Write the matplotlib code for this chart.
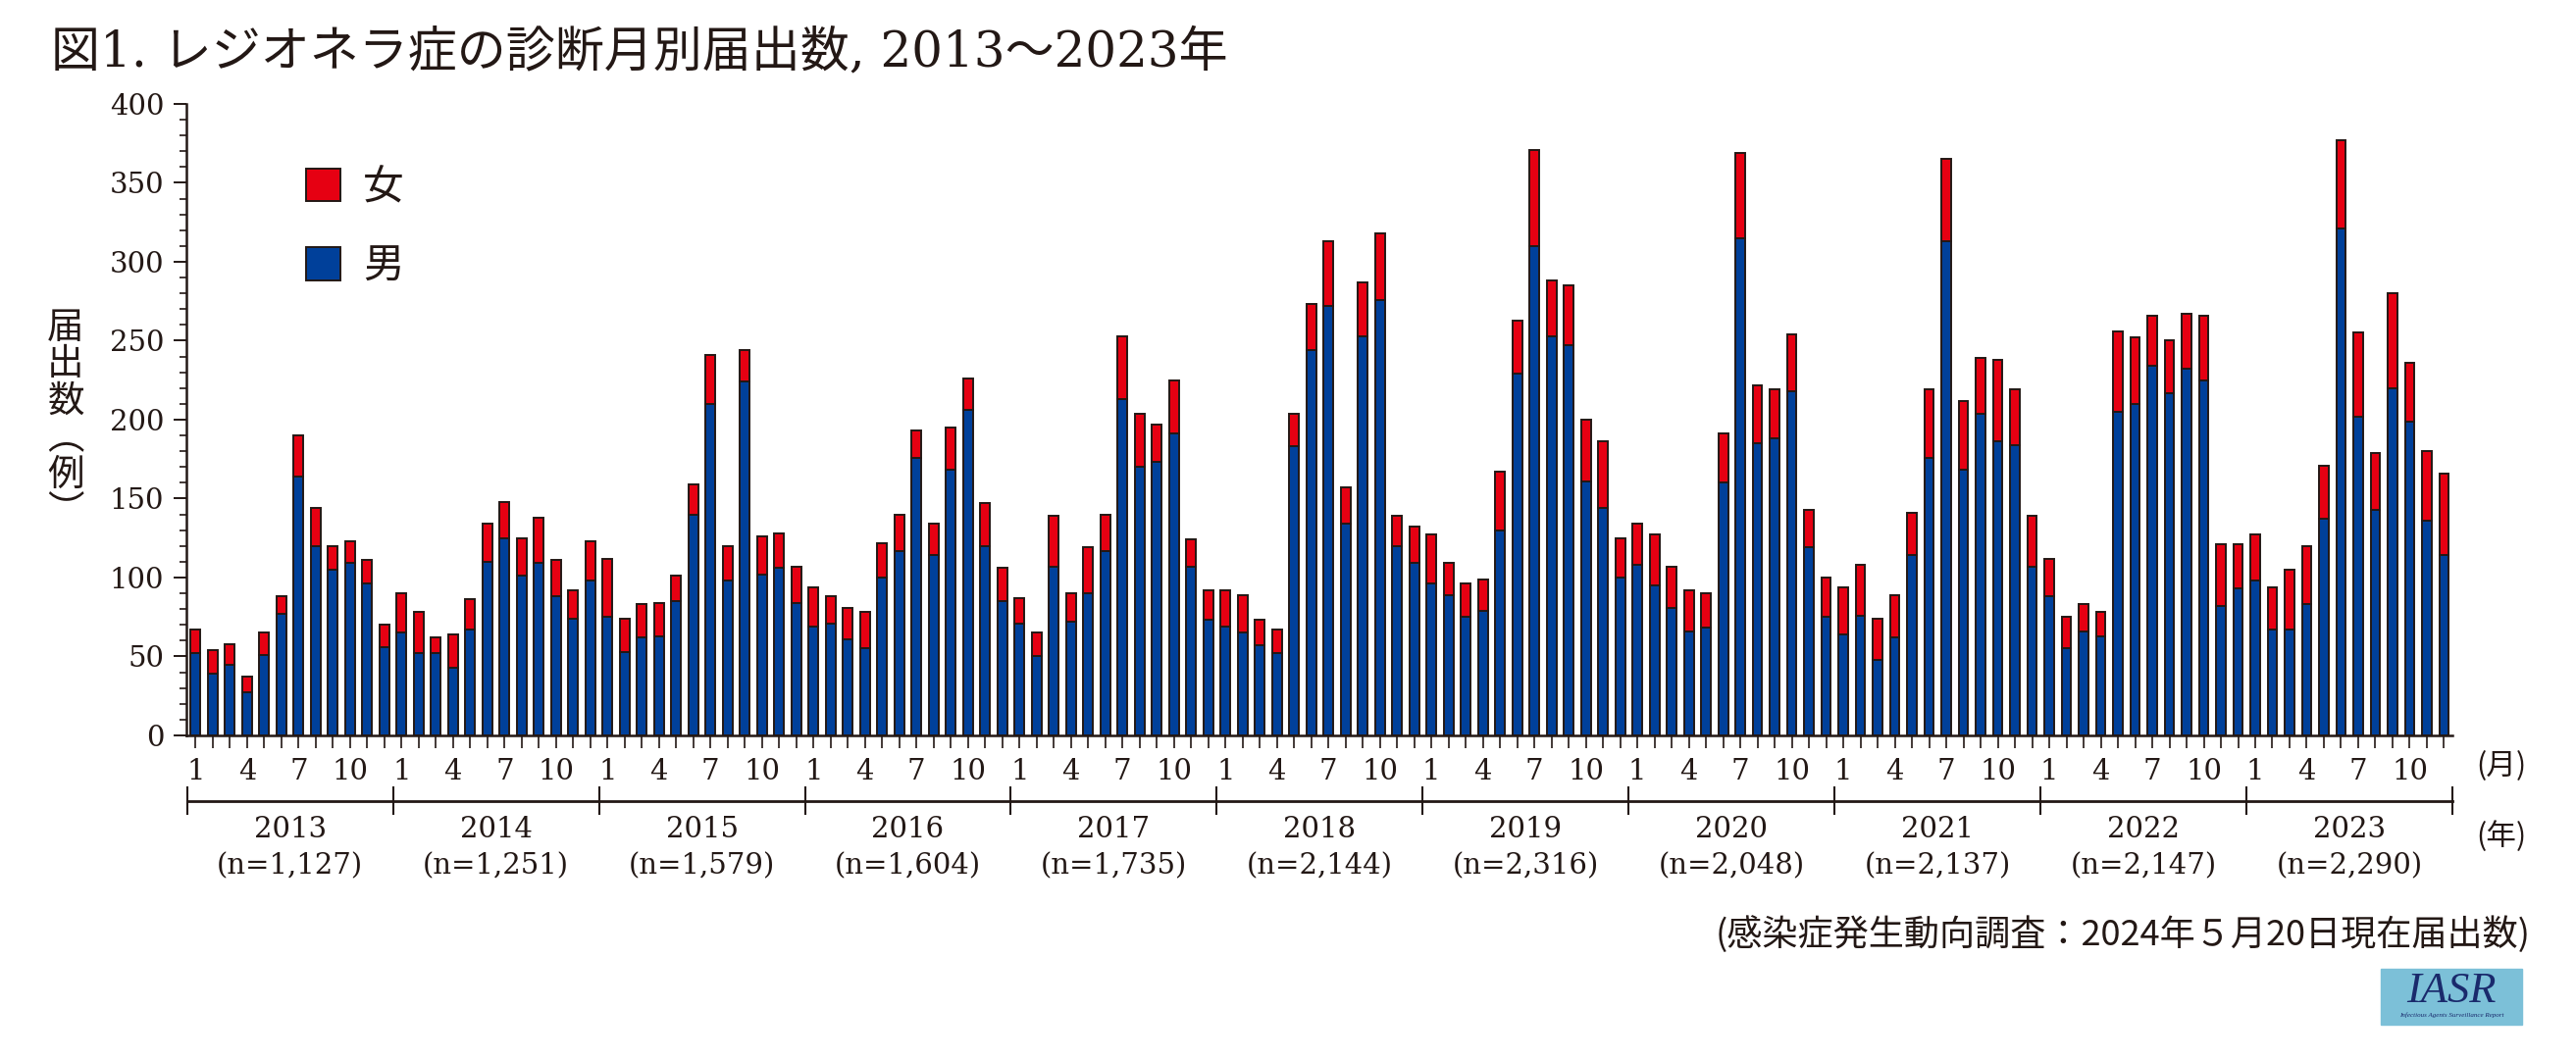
import matplotlib.pyplot as plt
import matplotlib.transforms as mtransforms
from matplotlib.patches import Rectangle
import numpy as np

# 届出数, per year: Jan..Dec
years = [2013, 2014, 2015, 2016, 2017, 2018, 2019, 2020, 2021, 2022, 2023]
n_labels = ["1,127", "1,251", "1,579", "1,604", "1,735", "2,144",
            "2,316", "2,048", "2,137", "2,147", "2,290"]
month_labels = ["1", "", "", "4", "", "", "7", "", "", "10", "", ""]

male = [
    [52, 39, 45, 27, 51, 77, 164, 120, 105, 109, 96, 56],
    [65, 52, 52, 43, 67, 110, 125, 101, 109, 88, 74, 98],
    [75, 53, 62, 63, 85, 140, 210, 98, 224, 102, 106, 84],
    [69, 71, 61, 55, 100, 117, 176, 114, 168, 206, 120, 85],
    [71, 50, 107, 72, 90, 117, 213, 170, 173, 191, 107, 73],
    [69, 65, 57, 52, 183, 244, 272, 134, 253, 276, 120, 109],
    [96, 89, 75, 79, 130, 229, 310, 253, 247, 161, 144, 100],
    [108, 95, 81, 66, 68, 160, 315, 185, 188, 218, 119, 75],
    [64, 76, 48, 62, 114, 176, 313, 168, 204, 186, 184, 107],
    [88, 55, 66, 63, 205, 210, 234, 217, 232, 225, 82, 93],
    [98, 67, 67, 83, 137, 321, 202, 143, 220, 199, 136, 114],
]
female = [
    [15, 15, 13, 10, 14, 11, 26, 24, 15, 14, 15, 14],
    [25, 26, 10, 21, 19, 24, 23, 24, 29, 23, 18, 25],
    [37, 21, 21, 21, 16, 19, 31, 22, 20, 24, 22, 23],
    [25, 17, 20, 23, 22, 23, 17, 20, 27, 20, 27, 21],
    [16, 15, 32, 18, 29, 23, 40, 34, 24, 34, 17, 19],
    [23, 24, 16, 15, 21, 29, 41, 23, 34, 42, 19, 23],
    [31, 20, 21, 20, 37, 34, 61, 35, 38, 39, 42, 25],
    [26, 32, 26, 26, 22, 31, 54, 37, 31, 36, 24, 25],
    [30, 32, 26, 27, 27, 43, 52, 44, 35, 52, 35, 32],
    [24, 20, 17, 15, 51, 42, 32, 33, 35, 41, 39, 28],
    [29, 27, 38, 37, 34, 56, 53, 36, 60, 37, 44, 52],
]

ink = "#231815"
blue = "#00409a"
red = "#e60012"
CJK = "Noto Sans CJK JP"
plt.rcParams['font.family'] = ['DejaVu Serif', CJK]
plt.rcParams['text.color'] = ink

male_all = np.concatenate(male)
female_all = np.concatenate(female)
x = np.arange(len(male_all))

fig = plt.figure(figsize=(26.26, 10.8), dpi=100)
ax = fig.add_axes([0.0724, 0.3056, 0.8797, 0.5963])

b_m = ax.bar(x, male_all, width=0.56, color=blue, edgecolor=ink, linewidth=1.4, label="男")
b_f = ax.bar(x, female_all, bottom=male_all, width=0.56, color=red, edgecolor=ink,
             linewidth=1.4, label="女")

ax.set_xlim(-0.53, len(x) - 0.5)
ax.set_ylim(0, 400)
ax.spines['top'].set_visible(False)
ax.spines['right'].set_visible(False)
for s in ['left', 'bottom']:
    ax.spines[s].set_linewidth(1.8)
    ax.spines[s].set_color(ink)

ax.set_yticks(np.arange(0, 401, 50))
ax.set_yticks(np.arange(0, 401, 10), minor=True)
ax.tick_params(axis='y', which='major', length=9.4, width=1.4, pad=7, labelsize=21,
               colors=ink)
ax.tick_params(axis='y', which='minor', length=5, width=1.2, colors=ink)

ax.set_xticks(x)
ax.set_xticklabels(month_labels * len(years))
ax.tick_params(axis='x', length=9.4, width=1.2, pad=7, labelsize=21, colors=ink)

# 年の区切り
trans = mtransforms.blended_transform_factory(ax.transData, ax.transAxes)
ax.plot([-0.5, len(x) - 0.5], [-0.104, -0.104], transform=trans, clip_on=False,
        color=ink, lw=2)
for k in range(len(years) + 1):
    ax.plot([12 * k - 0.5] * 2, [-0.082, -0.125], transform=trans, clip_on=False,
            color=ink, lw=1.5)
for k, (yr, n) in enumerate(zip(years, n_labels)):
    ax.text(12 * k + 5.5, -0.149, str(yr), transform=trans, ha='center', va='center',
            fontsize=21)
    ax.text(12 * k + 5.5, -0.2065, "(n=" + n + ")", transform=trans, ha='center',
            va='center', fontsize=21)

leg = ax.legend(handles=[b_f, b_m], loc='upper left', bbox_to_anchor=(291 / 2626, 1 - 150 / 1080),
                bbox_transform=fig.transFigure, frameon=False, borderpad=0,
                handlelength=0.85, handleheight=0.85, handletextpad=0.55,
                labelspacing=0.95, prop={'family': CJK, 'size': 30})

fig.text(52 / 2626, 1 - 54 / 1080, "図1. レジオネラ症の診断月別届出数, 2013～2023年",
         ha='left', va='center', fontsize=36)
fig.text(67 / 2626, 1 - 428 / 1080, "届\n出\n数\n︵\n例\n︶", ha='center', va='center',
         fontsize=27, family=CJK, linespacing=0.95)
fig.text(2550 / 2626, 1 - 782 / 1080, "(月)", ha='center', va='center', fontsize=22,
         family=CJK)
fig.text(2550 / 2626, 1 - 853 / 1080, "(年)", ha='center', va='center', fontsize=22,
         family=CJK)
fig.text(2580 / 2626, 1 - 953 / 1080, "(感染症発生動向調査：2024年５月20日現在届出数)",
         ha='right', va='center', fontsize=26, family=[CJK])

# IASR ロゴ
fig.patches.append(Rectangle((2427 / 2626, 1 - 1045 / 1080), 144 / 2626, 57 / 1080,
                             transform=fig.transFigure, color="#7cc0d8", zorder=0))
fig.text(2499 / 2626, 1 - 1011 / 1080, "IASR", ha='center', va='center', fontsize=32,
         family='Liberation Serif', style='italic', color="#1a2a6c")
fig.text(2499 / 2626, 1 - 1035 / 1080, "Infectious Agents Surveillance Report", ha='center',
         va='center', fontsize=5, family='Liberation Serif', style='italic', color="#1a2a6c")

fig.savefig("out.png", dpi=100, facecolor='white')
